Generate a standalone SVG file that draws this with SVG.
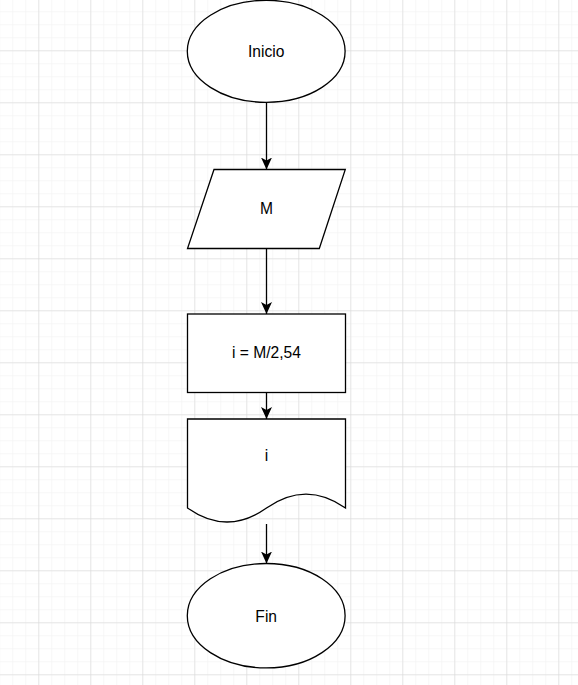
<svg xmlns="http://www.w3.org/2000/svg" width="578" height="685" viewBox="0 0 578 685">
<defs>
<pattern id="minor" x="38.3" y="50.3" width="13" height="13" patternUnits="userSpaceOnUse">
<path d="M0,0 H13 M0,0 V13" fill="none" stroke="#f0f0f0" stroke-width="1"/>
</pattern>
<pattern id="major" x="38.3" y="50.3" width="52" height="52" patternUnits="userSpaceOnUse">
<path d="M0,0 H52 M0,0 V52" fill="none" stroke="#d5d5d5" stroke-width="1"/>
</pattern>
<marker id="arr" markerUnits="userSpaceOnUse" markerWidth="12" markerHeight="12" viewBox="0 0 12 12" refX="12" refY="6" orient="auto">
<path d="M0,0.5 L12,6 L0,11.5 L3,6 Z" fill="#000"/>
</marker>
<style>
.shape{fill:#fff;stroke:#000;stroke-width:1.3}
.lbl{font-family:"Liberation Sans",Arial,sans-serif;font-size:15.6px;fill:#000;text-anchor:middle}
.edge{fill:none;stroke:#000;stroke-width:1.3;marker-end:url(#arr)}
</style>
</defs>
<rect width="578" height="685" fill="#fff"/>
<rect width="578" height="685" fill="url(#minor)"/>
<rect width="578" height="685" fill="url(#major)"/>
<g id="connectors">
<path class="edge" d="M266.5,103 V169.5"/>
<path class="edge" d="M266.5,248.5 V314"/>
<path class="edge" d="M266.5,392.5 V419"/>
<path class="edge" d="M266.5,524 V563.5"/>
</g>
<g id="inicio">
<ellipse class="shape" cx="266.2" cy="51.3" rx="78.9" ry="51"/>
<text class="lbl" x="266.2" y="57">Inicio</text>
</g>
<g id="entrada">
<polygon class="shape" points="214,169.5 345.3,169.5 319.3,248.5 187.5,248.5"/>
<text class="lbl" x="266.4" y="214">M</text>
</g>
<g id="proceso">
<rect class="shape" x="187.5" y="314" width="158" height="78.5"/>
<text class="lbl" x="266.5" y="357.5">i = M/2,54</text>
</g>
<g id="salida">
<path class="shape" d="M187.5,419 H345.5 V508 Q306,480.2 266.5,508 Q227,536 187.5,508 Z"/>
<text class="lbl" x="266.5" y="461">i</text>
</g>
<g id="fin">
<ellipse class="shape" cx="266.2" cy="615.7" rx="78.9" ry="52.2"/>
<text class="lbl" x="266.2" y="622">Fin</text>
</g>
</svg>
